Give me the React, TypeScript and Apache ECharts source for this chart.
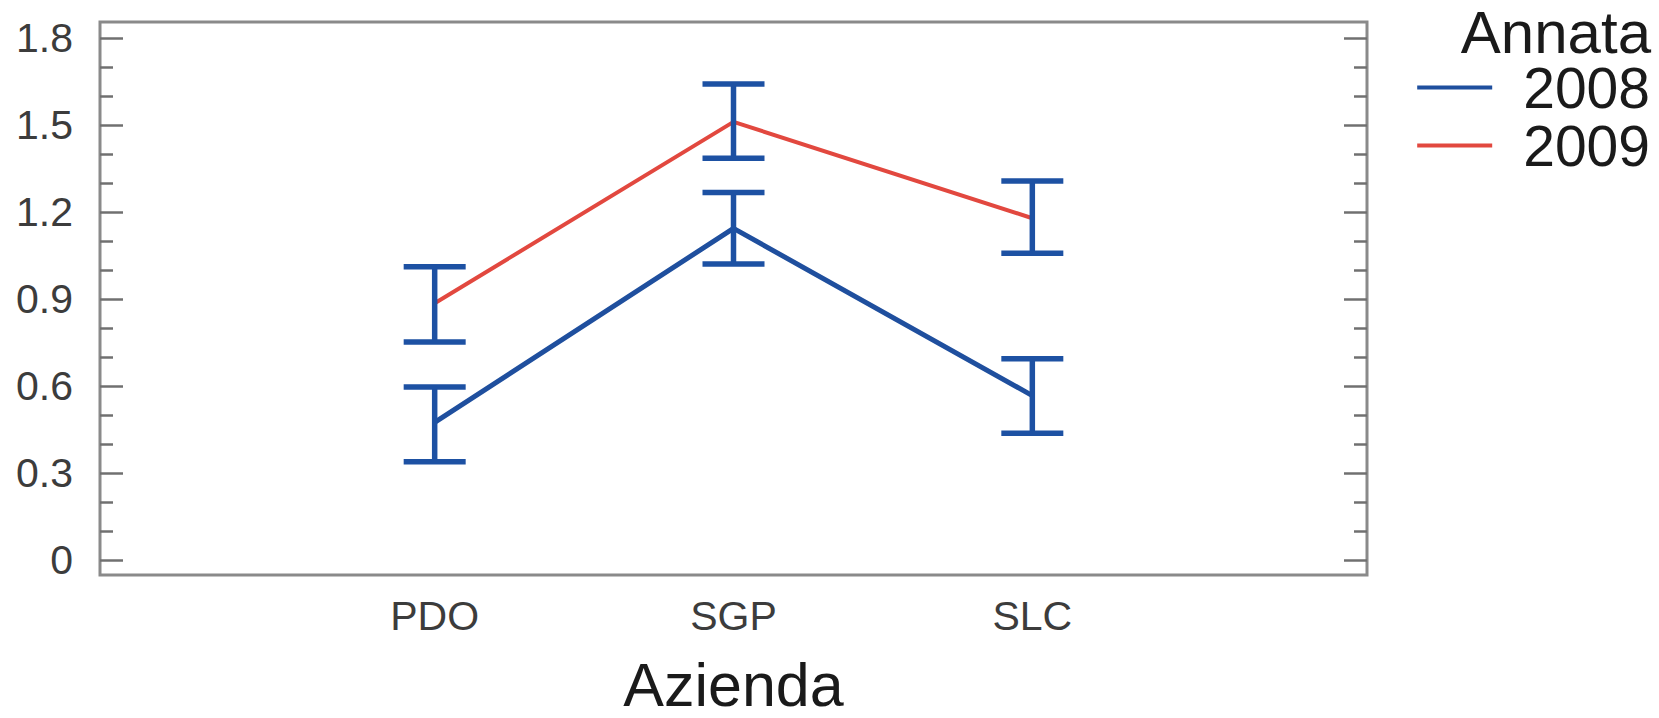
import React, { useEffect, useRef } from "react";
import * as echarts from "echarts";

// ---- data ----
const categories = ["PDO", "SGP", "SLC"];
const categoryPositions = [1, 2, 3];
const seriesNames = ["2008", "2009"];

const mean2008 = [0.476, 1.144, 0.568];
const lower2008 = [0.34, 1.021, 0.438];
const upper2008 = [0.598, 1.268, 0.695];

const mean2009 = [0.886, 1.511, 1.179];
const lower2009 = [0.753, 1.386, 1.058];
const upper2009 = [1.012, 1.641, 1.307];

const yMajorTicks = [0, 0.3, 0.6, 0.9, 1.2, 1.5, 1.8];
const yMinorTicks = [0.1, 0.2, 0.4, 0.5, 0.7, 0.8, 1.0, 1.1, 1.3, 1.4, 1.6, 1.7];

const legendTitle = "Annata";
const xAxisTitle = "Azienda";

const BLUE = "#1f4f9e";
const RED = "#e2483f";
const ERR = "#1d51a3";
const TICK = "#707070";
const FONT = "'Liberation Sans', Arial, Helvetica, sans-serif";

export default function App() {
  const ref = useRef<HTMLDivElement>(null);

  useEffect(() => {
    document.body.style.margin = "0";
    if (!ref.current) return;
    const chart = echarts.init(ref.current, null, { renderer: "svg" });

    const errRender = (params: any, api: any) => {
      const x = api.value(0);
      const lo = api.coord([x, api.value(1)]);
      const hi = api.coord([x, api.value(2)]);
      const hw = 31;
      const style = { stroke: ERR, lineWidth: 5.5, fill: "none" };
      return {
        type: "group",
        children: [
          { type: "line", shape: { x1: lo[0], y1: lo[1], x2: hi[0], y2: hi[1] }, style },
          { type: "line", shape: { x1: lo[0] - hw, y1: lo[1], x2: lo[0] + hw, y2: lo[1] }, style },
          { type: "line", shape: { x1: hi[0] - hw, y1: hi[1], x2: hi[0] + hw, y2: hi[1] }, style },
        ],
      };
    };

    const yBase = {
      type: "value",
      min: -0.05,
      max: 1.855,
      axisLine: { show: false },
      splitLine: { show: false },
    };

    const tickAxis = (position: string, values: number[], length: number) => ({
      ...yBase,
      position,
      axisLabel: { show: false },
      axisTick: {
        show: true,
        inside: true,
        length,
        customValues: values,
        lineStyle: { color: TICK, width: 2.5 },
      },
    });

    const option: any = {
      animation: false,
      backgroundColor: "#ffffff",
      textStyle: { fontFamily: FONT },
      title: {
        text: legendTitle,
        right: 8,
        top: 9,
        padding: 0,
        textStyle: {
          fontSize: 60,
          lineHeight: 46,
          fontWeight: "normal",
          color: "#1a1a1a",
          fontFamily: FONT,
        },
      },
      legend: {
        data: seriesNames,
        orient: "vertical",
        right: 9,
        top: 59,
        itemGap: 1,
        itemWidth: 75,
        itemHeight: 4,
        icon: "rect",
        padding: 0,
        textStyle: {
          fontSize: 57,
          lineHeight: 57,
          color: "#1a1a1a",
          fontFamily: FONT,
          padding: [0, 0, 0, 26],
        },
      },
      grid: {
        left: 100,
        right: 292,
        top: 22,
        bottom: 143,
        show: true,
        borderColor: "#8a8a8a",
        borderWidth: 3,
        backgroundColor: "transparent",
        outerBoundsMode: "none",
        containLabel: false,
      },
      xAxis: {
        type: "value",
        min: -0.12,
        max: 4.12,
        position: "bottom",
        axisLine: { show: false },
        axisTick: { show: false },
        splitLine: { show: false },
        axisLabel: {
          customValues: categoryPositions,
          formatter: (v: number) => {
            const i = categoryPositions.indexOf(v);
            return i >= 0 ? categories[i] : "";
          },
          fontSize: 41,
          color: "#3c3c3c",
          margin: 20,
          fontFamily: FONT,
        },
        name: xAxisTitle,
        nameLocation: "middle",
        nameGap: 85,
        nameTextStyle: { fontSize: 61, lineHeight: 50, color: "#1a1a1a", fontFamily: FONT },
      },
      yAxis: [
        {
          ...yBase,
          position: "left",
          axisTick: { show: false },
          axisLabel: {
            customValues: yMajorTicks,
            formatter: (v: number) => String(v),
            fontSize: 41,
            color: "#3c3c3c",
            margin: 27,
            fontFamily: FONT,
          },
        },
        tickAxis("left", yMajorTicks, 23),
        tickAxis("left", yMinorTicks, 13),
        tickAxis("right", yMajorTicks, 23),
        tickAxis("right", yMinorTicks, 13),
      ],
      series: [
        {
          name: seriesNames[0],
          type: "line",
          yAxisIndex: 0,
          symbol: "none",
          color: BLUE,
          lineStyle: { color: BLUE, width: 5 },
          data: categoryPositions.map((x, i) => [x, mean2008[i]]),
          z: 2,
        },
        {
          name: seriesNames[1],
          type: "line",
          yAxisIndex: 0,
          symbol: "none",
          color: RED,
          lineStyle: { color: RED, width: 4 },
          data: categoryPositions.map((x, i) => [x, mean2009[i]]),
          z: 2,
        },
        {
          name: "err2008",
          type: "custom",
          yAxisIndex: 0,
          renderItem: errRender,
          data: categoryPositions.map((x, i) => [x, lower2008[i], upper2008[i]]),
          z: 3,
        },
        {
          name: "err2009",
          type: "custom",
          yAxisIndex: 0,
          renderItem: errRender,
          data: categoryPositions.map((x, i) => [x, lower2009[i], upper2009[i]]),
          z: 3,
        },
      ],
    };

    chart.setOption(option);
    return () => chart.dispose();
  }, []);

  return <div ref={ref} style={{ width: 1659, height: 718 }} />;
}
